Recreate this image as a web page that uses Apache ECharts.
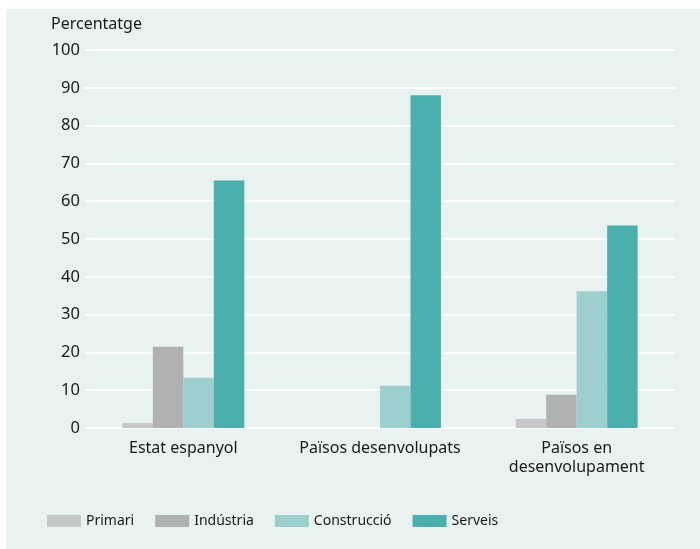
<!DOCTYPE html>
<html>
<head>
<meta charset="utf-8">
<script src="https://cdn.jsdelivr.net/npm/echarts@6/dist/echarts.min.js"></script>
<style>
  html, body { margin: 0; padding: 0; background: #ffffff; }
  #chart { width: 700px; height: 549px; }
</style>
</head>
<body>
<div id="chart"></div>
<script>
// categories and series values (percentatge)
const categories = ['Estat espanyol', 'Països desenvolupats', 'Països en\ndesenvolupament'];
const seriesNames = ['Primari', 'Indústria', 'Construcció', 'Serveis'];
const primari = [1.3, 0, 2.4];
const industria = [21.5, 0, 8.8];
const construccio = [13.3, 11.2, 36.2];
const serveis = [65.5, 88.0, 53.6];
const colors = ['#c6c7c9', '#b0b1b3', '#9ecfcf', '#4bafae'];

const values = [primari, industria, construccio, serveis];
const font = 'Noto Sans';

const chart = echarts.init(document.getElementById('chart'));

const series = seriesNames.map(function (name, i) {
    return {
        name: name,
        type: 'bar',
        data: values[i],
        barGap: '0%',
        barCategoryGap: '38%',
        itemStyle: { color: colors[i] },
        z: 3
    };
});

chart.setOption({
    backgroundColor: '#ffffff',
    animation: false,
    textStyle: { fontFamily: font },
    graphic: [{
        type: 'rect',
        z: -10,
        shape: { x: 6, y: 9, width: 694, height: 540 },
        style: { fill: '#e8f2f1' }
    }],
    grid: { left: 85, right: 25, top: 50, bottom: 121, containLabel: false },
    legend: {
        top: 514,
        left: 47,
        padding: 0,
        itemWidth: 34,
        itemHeight: 12,
        itemGap: 21,
        icon: 'rect',
        textStyle: { fontSize: 14, color: '#1a1a1a', fontFamily: font },
        data: seriesNames
    },
    xAxis: {
        type: 'category',
        data: categories,
        axisLine: { show: false },
        axisTick: { show: false },
        axisLabel: { interval: 0, fontSize: 16, color: '#1a1a1a', margin: 11, lineHeight: 19 }
    },
    yAxis: {
        type: 'value',
        min: 0,
        max: 100,
        interval: 10,
        name: 'Percentatge',
        nameLocation: 'end',
        nameGap: 18,
        nameTextStyle: { fontSize: 16, color: '#1a1a1a', align: 'left', padding: [0, 0, 0, -34] },
        axisLine: { show: false },
        axisTick: { show: false },
        axisLabel: { fontSize: 16.5, color: '#1a1a1a', margin: 5 },
        splitLine: { lineStyle: { color: '#ffffff', width: 2 } }
    },
    series: series
});
</script>
</body>
</html>
